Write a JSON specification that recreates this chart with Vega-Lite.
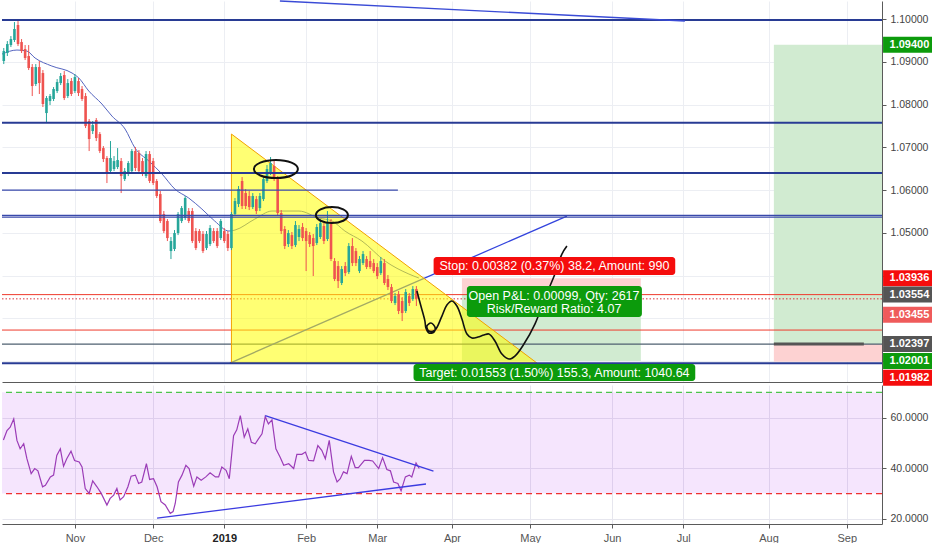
{
  "$schema": "https://vega.github.io/schema/vega-lite/v6.json",
  "padding": 0,
  "background": "#ffffff",
  "spacing": 3,
  "bounds": "flush",
  "datasets": {
    "candles": [
      {"i":-20,"o":1.09018,"h":1.09322,"l":1.08947,"c":1.09251},
      {"i":-19,"o":1.09205,"h":1.09485,"l":1.09135,"c":1.09415},
      {"i":-18,"o":1.09392,"h":1.09602,"l":1.09345,"c":1.09532},
      {"i":-17,"o":1.09509,"h":1.0993,"l":1.09462,"c":1.09766},
      {"i":-16,"o":1.0986,"h":1.09953,"l":1.09368,"c":1.09415},
      {"i":-15,"o":1.09462,"h":1.09532,"l":1.09205,"c":1.09251},
      {"i":-14,"o":1.09298,"h":1.09392,"l":1.09041,"c":1.09088},
      {"i":-13,"o":1.09135,"h":1.09392,"l":1.08807,"c":1.08854},
      {"i":-12,"o":1.08877,"h":1.08947,"l":1.08199,"c":1.08433},
      {"i":-11,"o":1.0848,"h":1.08947,"l":1.08433,"c":1.08877},
      {"i":-10,"o":1.08877,"h":1.09018,"l":1.08246,"c":1.08503},
      {"i":-9,"o":1.08737,"h":1.08807,"l":1.07942,"c":1.08012},
      {"i":-8,"o":1.07801,"h":1.08199,"l":1.07567,"c":1.08152},
      {"i":-7,"o":1.08082,"h":1.08246,"l":1.07988,"c":1.08199},
      {"i":-6,"o":1.08129,"h":1.08409,"l":1.08082,"c":1.08363},
      {"i":-5,"o":1.08316,"h":1.08596,"l":1.08269,"c":1.08526},
      {"i":-4,"o":1.08503,"h":1.08737,"l":1.08456,"c":1.08667},
      {"i":-3,"o":1.0869,"h":1.08784,"l":1.08105,"c":1.08152},
      {"i":-2,"o":1.08199,"h":1.08596,"l":1.08152,"c":1.08503},
      {"i":-1,"o":1.0855,"h":1.0862,"l":1.08199,"c":1.08246},
      {"i":0,"o":1.08316,"h":1.08713,"l":1.08269,"c":1.08643},
      {"i":1,"o":1.0855,"h":1.0862,"l":1.08199,"c":1.08269},
      {"i":2,"o":1.08363,"h":1.08433,"l":1.08082,"c":1.08129},
      {"i":3,"o":1.08199,"h":1.08269,"l":1.0745,"c":1.07497},
      {"i":4,"o":1.07614,"h":1.07661,"l":1.06912,"c":1.07193},
      {"i":5,"o":1.0738,"h":1.07614,"l":1.0731,"c":1.0752},
      {"i":6,"o":1.07637,"h":1.07684,"l":1.07146,"c":1.07216},
      {"i":7,"o":1.0731,"h":1.07357,"l":1.06865,"c":1.06912},
      {"i":8,"o":1.06982,"h":1.07029,"l":1.06655,"c":1.06725},
      {"i":9,"o":1.06749,"h":1.06795,"l":1.06164,"c":1.06398},
      {"i":10,"o":1.06444,"h":1.07146,"l":1.06398,"c":1.06749},
      {"i":11,"o":1.06491,"h":1.06795,"l":1.06444,"c":1.06678},
      {"i":12,"o":1.06538,"h":1.06982,"l":1.06491,"c":1.06702},
      {"i":13,"o":1.06678,"h":1.06749,"l":1.0593,"c":1.06327},
      {"i":14,"o":1.06257,"h":1.06515,"l":1.06211,"c":1.06444},
      {"i":15,"o":1.06374,"h":1.06678,"l":1.06327,"c":1.06632},
      {"i":16,"o":1.06444,"h":1.06959,"l":1.06398,"c":1.06912},
      {"i":17,"o":1.06912,"h":1.07006,"l":1.06444,"c":1.06515},
      {"i":18,"o":1.06865,"h":1.06936,"l":1.06398,"c":1.06444},
      {"i":19,"o":1.06678,"h":1.06749,"l":1.06327,"c":1.06374},
      {"i":20,"o":1.06327,"h":1.06912,"l":1.06281,"c":1.06842},
      {"i":21,"o":1.06842,"h":1.06912,"l":1.06164,"c":1.06211},
      {"i":22,"o":1.06678,"h":1.06749,"l":1.06117,"c":1.06164},
      {"i":23,"o":1.06211,"h":1.06257,"l":1.05813,"c":1.0586},
      {"i":24,"o":1.05906,"h":1.05977,"l":1.05228,"c":1.05275},
      {"i":25,"o":1.05439,"h":1.05509,"l":1.04994,"c":1.05041},
      {"i":26,"o":1.05275,"h":1.05322,"l":1.04807,"c":1.04877},
      {"i":27,"o":1.04573,"h":1.04901,"l":1.04386,"c":1.04807},
      {"i":28,"o":1.0462,"h":1.05064,"l":1.04573,"c":1.04994},
      {"i":29,"o":1.04994,"h":1.05485,"l":1.04947,"c":1.05439},
      {"i":30,"o":1.05275,"h":1.05626,"l":1.05228,"c":1.05579},
      {"i":31,"o":1.05345,"h":1.0586,"l":1.05298,"c":1.05813},
      {"i":32,"o":1.05509,"h":1.05579,"l":1.05228,"c":1.05275},
      {"i":33,"o":1.05509,"h":1.05579,"l":1.0476,"c":1.04807},
      {"i":34,"o":1.05041,"h":1.05111,"l":1.04596,"c":1.04643},
      {"i":35,"o":1.05041,"h":1.05088,"l":1.0476,"c":1.04807},
      {"i":36,"o":1.04971,"h":1.05041,"l":1.04526,"c":1.04573},
      {"i":37,"o":1.04643,"h":1.05041,"l":1.04596,"c":1.04971},
      {"i":38,"o":1.04737,"h":1.05181,"l":1.0469,"c":1.05111},
      {"i":39,"o":1.05041,"h":1.05111,"l":1.0476,"c":1.04807},
      {"i":40,"o":1.05041,"h":1.05111,"l":1.04643,"c":1.0469},
      {"i":41,"o":1.04877,"h":1.05322,"l":1.0483,"c":1.05275},
      {"i":42,"o":1.05041,"h":1.05111,"l":1.0476,"c":1.04807},
      {"i":43,"o":1.04971,"h":1.05041,"l":1.04573,"c":1.04643},
      {"i":44,"o":1.04643,"h":1.05485,"l":1.04596,"c":1.05439},
      {"i":45,"o":1.05439,"h":1.05813,"l":1.05392,"c":1.05743},
      {"i":46,"o":1.05673,"h":1.06094,"l":1.05602,"c":1.06023},
      {"i":47,"o":1.06211,"h":1.06304,"l":1.05556,"c":1.05626},
      {"i":48,"o":1.0593,"h":1.06023,"l":1.05556,"c":1.05626},
      {"i":49,"o":1.0586,"h":1.05977,"l":1.05532,"c":1.05602},
      {"i":50,"o":1.05602,"h":1.0593,"l":1.05556,"c":1.0586},
      {"i":51,"o":1.05789,"h":1.0586,"l":1.05439,"c":1.05509},
      {"i":52,"o":1.05579,"h":1.0593,"l":1.05509,"c":1.0586},
      {"i":53,"o":1.05789,"h":1.06327,"l":1.05743,"c":1.06257},
      {"i":54,"o":1.06211,"h":1.06585,"l":1.06164,"c":1.06491},
      {"i":55,"o":1.06398,"h":1.06772,"l":1.06351,"c":1.06632},
      {"i":56,"o":1.06561,"h":1.06678,"l":1.06211,"c":1.06257},
      {"i":57,"o":1.06257,"h":1.06327,"l":1.05415,"c":1.05462},
      {"i":58,"o":1.05462,"h":1.05532,"l":1.04971,"c":1.05041},
      {"i":59,"o":1.05088,"h":1.05158,"l":1.0462,"c":1.0469},
      {"i":60,"o":1.04737,"h":1.05064,"l":1.04667,"c":1.04994},
      {"i":61,"o":1.04947,"h":1.05018,"l":1.0462,"c":1.0469},
      {"i":62,"o":1.04713,"h":1.05275,"l":1.04667,"c":1.05181},
      {"i":63,"o":1.04901,"h":1.05181,"l":1.04807,"c":1.05088},
      {"i":64,"o":1.05135,"h":1.05228,"l":1.04807,"c":1.04877},
      {"i":65,"o":1.05041,"h":1.05111,"l":1.04105,"c":1.04807},
      {"i":66,"o":1.04947,"h":1.05018,"l":1.04667,"c":1.04737},
      {"i":67,"o":1.04877,"h":1.04971,"l":1.03988,"c":1.0469},
      {"i":68,"o":1.0476,"h":1.05205,"l":1.04713,"c":1.05135},
      {"i":69,"o":1.04901,"h":1.05322,"l":1.04854,"c":1.05228},
      {"i":70,"o":1.05158,"h":1.05228,"l":1.04737,"c":1.04807},
      {"i":71,"o":1.04854,"h":1.05509,"l":1.04807,"c":1.05228},
      {"i":72,"o":1.05228,"h":1.05322,"l":1.04339,"c":1.04386},
      {"i":73,"o":1.04339,"h":1.04409,"l":1.03871,"c":1.03918},
      {"i":74,"o":1.04222,"h":1.04339,"l":1.03708,"c":1.03871},
      {"i":75,"o":1.03825,"h":1.04222,"l":1.03778,"c":1.04152},
      {"i":76,"o":1.04222,"h":1.04316,"l":1.03988,"c":1.04058},
      {"i":77,"o":1.04082,"h":1.0476,"l":1.04035,"c":1.0469},
      {"i":78,"o":1.0469,"h":1.04877,"l":1.04222,"c":1.04292},
      {"i":79,"o":1.04573,"h":1.04643,"l":1.04222,"c":1.04292},
      {"i":80,"o":1.04105,"h":1.04456,"l":1.04058,"c":1.04386},
      {"i":81,"o":1.04292,"h":1.04573,"l":1.04246,"c":1.04503},
      {"i":82,"o":1.04386,"h":1.04456,"l":1.04152,"c":1.04199},
      {"i":83,"o":1.04339,"h":1.04573,"l":1.04152,"c":1.04199},
      {"i":84,"o":1.04292,"h":1.04386,"l":1.04058,"c":1.04105},
      {"i":85,"o":1.04199,"h":1.04292,"l":1.03918,"c":1.03988},
      {"i":86,"o":1.04058,"h":1.04433,"l":1.04012,"c":1.04339},
      {"i":87,"o":1.04292,"h":1.04386,"l":1.03778,"c":1.03825},
      {"i":88,"o":1.03918,"h":1.04012,"l":1.03661,"c":1.03731},
      {"i":89,"o":1.03731,"h":1.03801,"l":1.03357,"c":1.03404},
      {"i":90,"o":1.03357,"h":1.03591,"l":1.0331,"c":1.0352},
      {"i":91,"o":1.03567,"h":1.03637,"l":1.03099,"c":1.0317},
      {"i":92,"o":1.03404,"h":1.03497,"l":1.02936,"c":1.03123},
      {"i":93,"o":1.0317,"h":1.03684,"l":1.03123,"c":1.03614},
      {"i":94,"o":1.0352,"h":1.03591,"l":1.03287,"c":1.03357},
      {"i":95,"o":1.0345,"h":1.03754,"l":1.03404,"c":1.03684},
      {"i":96,"o":1.03684,"h":1.03754,"l":1.03287,"c":1.03455}
    ],
    "ma": [
      {"i":-20.5,"p":1.09181},{"i":-16.3,"p":1.09275},{"i":-13.5,"p":1.09251},{"i":-11.2,"p":1.09088},
      {"i":-6.5,"p":1.08901},{"i":-0.8,"p":1.08737},{"i":1.1,"p":1.0862},{"i":3.9,"p":1.08316},
      {"i":7.6,"p":1.08012},{"i":10.4,"p":1.07731},{"i":14.1,"p":1.07427},{"i":16.9,"p":1.06982},
      {"i":20.8,"p":1.06678},{"i":24.5,"p":1.06374},{"i":28.1,"p":1.06023},{"i":32,"p":1.05813},
      {"i":35.7,"p":1.05556},{"i":39.3,"p":1.05275},{"i":43.3,"p":1.05041},{"i":45,"p":1.05064},
      {"i":50.6,"p":1.05322},{"i":55.4,"p":1.05509},{"i":63,"p":1.05509},{"i":68.6,"p":1.05345},
      {"i":72.3,"p":1.05275},{"i":75.9,"p":1.05041},{"i":80.7,"p":1.04807},{"i":87.2,"p":1.04339},
      {"i":93.9,"p":1.04035},{"i":96.7,"p":1.03942}
    ],
    "path": [
      {"k":1,"i":96.15,"p":1.03637},{"k":2,"i":97.27,"p":1.03287},{"k":3,"i":98.4,"p":1.02936},
      {"k":4,"i":98.68,"p":1.02772},{"k":5,"i":99.52,"p":1.02655},{"k":6,"i":100.93,"p":1.02678},
      {"k":7,"i":101.21,"p":1.02795},{"k":8,"i":100.08,"p":1.02889},{"k":9,"i":98.96,"p":1.02819},
      {"k":10,"i":99.52,"p":1.02702},{"k":11,"i":101.21,"p":1.02725},{"k":12,"i":103.18,"p":1.03053},
      {"k":13,"i":104.58,"p":1.0331},{"k":14,"i":105.99,"p":1.03404},{"k":15,"i":107.39,"p":1.03287},
      {"k":16,"i":108.8,"p":1.02982},{"k":17,"i":110.21,"p":1.02632},{"k":18,"i":111.61,"p":1.02538},
      {"k":19,"i":113.3,"p":1.02561},{"k":20,"i":114.99,"p":1.02608},{"k":21,"i":116.39,"p":1.02632},
      {"k":22,"i":118.08,"p":1.02468},{"k":23,"i":120.04,"p":1.02164},{"k":24,"i":122.01,"p":1.02047},
      {"k":25,"i":123.7,"p":1.02117},{"k":26,"i":126.23,"p":1.02398},{"k":27,"i":129.32,"p":1.02865},
      {"k":28,"i":132.13,"p":1.03474},{"k":29,"i":134.95,"p":1.04035},{"k":30,"i":136.91,"p":1.04503},
      {"k":31,"i":138.32,"p":1.0469}
    ],
    "ellipses": [
      {"e":"a","k":1,"i":62.69,"p":1.06491},{"e":"a","k":2,"i":60.89,"p":1.06341},
      {"e":"a","k":3,"i":56.51,"p":1.06281},{"e":"a","k":4,"i":52.12,"p":1.06341},
      {"e":"a","k":5,"i":50.32,"p":1.06491},{"e":"a","k":6,"i":52.12,"p":1.06641},
      {"e":"a","k":7,"i":56.51,"p":1.06702},{"e":"a","k":8,"i":60.89,"p":1.06641},
      {"e":"b","k":1,"i":76.75,"p":1.05415},{"e":"b","k":2,"i":75.43,"p":1.05282},
      {"e":"b","k":3,"i":72.25,"p":1.05228},{"e":"b","k":4,"i":69.07,"p":1.05282},
      {"e":"b","k":5,"i":67.75,"p":1.05415},{"e":"b","k":6,"i":69.07,"p":1.05549},
      {"e":"b","k":7,"i":72.25,"p":1.05602},{"e":"b","k":8,"i":75.43,"p":1.05549}
    ],
    "rsi": [
      {"i":-20.1,"v":51.2},{"i":-19.1,"v":54.9},{"i":-18.2,"v":56.2},{"i":-17.2,"v":59.5},{"i":-16.3,"v":51.0},
      {"i":-15.4,"v":47.7},{"i":-14.4,"v":49.7},{"i":-13.5,"v":43.8},{"i":-12.3,"v":37.9},{"i":-11.3,"v":39.9},
      {"i":-10.4,"v":39.0},{"i":-9.1,"v":32.7},{"i":-8.3,"v":33.3},{"i":-6.9,"v":36.6},{"i":-6.0,"v":37.3},
      {"i":-5.1,"v":45.1},{"i":-4.1,"v":47.7},{"i":-3.2,"v":40.8},{"i":-2.3,"v":43.8},{"i":-1.1,"v":46.8},
      {"i":-0.1,"v":43.1},{"i":1.2,"v":42.5},{"i":2.0,"v":40.5},{"i":2.9,"v":32.0},{"i":4.0,"v":30.1},
      {"i":5.0,"v":35.0},{"i":6.2,"v":32.7},{"i":7.4,"v":30.1},{"i":9.0,"v":25.5},{"i":9.9,"v":28.1},
      {"i":10.9,"v":29.4},{"i":11.8,"v":32.0},{"i":12.7,"v":27.5},{"i":13.7,"v":28.8},{"i":14.9,"v":32.7},
      {"i":15.8,"v":36.9},{"i":17.0,"v":37.3},{"i":17.9,"v":34.0},{"i":18.8,"v":34.6},{"i":20.1,"v":41.8},
      {"i":21.0,"v":35.6},{"i":22.1,"v":35.9},{"i":23.1,"v":32.7},{"i":24.2,"v":26.8},{"i":25.4,"v":25.5},
      {"i":26.8,"v":22.2},{"i":27.6,"v":22.9},{"i":28.2,"v":26.1},{"i":29.1,"v":34.6},{"i":30.1,"v":37.3},
      {"i":31.2,"v":41.2},{"i":32.1,"v":39.9},{"i":33.4,"v":32.9},{"i":34.3,"v":36.6},{"i":35.5,"v":35.3},
      {"i":36.8,"v":36.6},{"i":38.0,"v":38.2},{"i":39.5,"v":36.6},{"i":40.4,"v":36.6},{"i":41.3,"v":40.5},
      {"i":42.5,"v":39.2},{"i":43.4,"v":35.9},{"i":44.6,"v":52.9},{"i":45.5,"v":55.2},{"i":46.5,"v":60.8},
      {"i":47.6,"v":52.3},{"i":48.6,"v":55.6},{"i":49.6,"v":50.3},{"i":50.7,"v":49.7},{"i":51.6,"v":51.6},
      {"i":52.6,"v":53.6},{"i":53.5,"v":60.4},{"i":54.4,"v":57.5},{"i":55.4,"v":59.1},{"i":56.5,"v":47.7},
      {"i":57.7,"v":44.4},{"i":58.7,"v":41.2},{"i":60.1,"v":41.8},{"i":61.5,"v":39.9},{"i":62.4,"v":45.5},
      {"i":63.8,"v":45.5},{"i":64.8,"v":46.4},{"i":65.7,"v":43.1},{"i":67.1,"v":42.9},{"i":68.3,"v":49.0},
      {"i":69.4,"v":47.1},{"i":70.4,"v":43.8},{"i":71.5,"v":51.0},{"i":72.7,"v":38.6},{"i":73.7,"v":34.6},
      {"i":74.6,"v":35.9},{"i":75.5,"v":38.6},{"i":76.5,"v":37.9},{"i":77.7,"v":44.7},{"i":78.8,"v":40.3},
      {"i":79.7,"v":40.3},{"i":81.4,"v":43.1},{"i":82.7,"v":43.1},{"i":83.7,"v":42.9},{"i":85.4,"v":39.9},
      {"i":86.5,"v":44.2},{"i":87.7,"v":39.5},{"i":88.7,"v":39.0},{"i":89.6,"v":34.6},{"i":90.8,"v":34.0},
      {"i":91.7,"v":31.1},{"i":92.9,"v":36.6},{"i":94.0,"v":37.3},{"i":94.7,"v":36.6},{"i":95.9,"v":42.1},
      {"i":96.8,"v":39.9}
    ]
  },
  "vconcat": [
    {
      "width": 880,
      "height": 381,
      "resolve": {"axis": {"x": "independent", "y": "independent"}},
      "layer": [
        {
          "data": {"values": [
            {"i1":108.8,"i2":159.1,"p1":1.03554,"p2":1.03936},
            {"i1":196.5,"i2":226.9,"p1":1.01982,"p2":1.02397}
          ]},
          "mark": {"type": "rect", "color": "#fdd2d2"},
          "encoding": {
            "x": {"field": "i1", "type": "quantitative", "scale": {"domain": [-20.5, 226.9], "nice": false, "zero": false, "padding": 0},
                  "axis": {"orient": "bottom", "values": [0,22,42,65,85,106,128,151,171,195,217], "labels": false, "ticks": false, "grid": true, "gridColor": "#eceef3", "domain": true, "domainColor": "#5a5a5a", "title": null}},
            "x2": {"field": "i2"},
            "y": {"field": "p1", "type": "quantitative", "scale": {"domain": [1.0151, 1.10422], "nice": false, "zero": false, "padding": 0},
                  "axis": {"orient": "right", "values": [1.02,1.03,1.04,1.05,1.06,1.07,1.08,1.09,1.1], "format": ".5f", "labelExpr": "datum.value > 1.045 ? datum.label : ''", "grid": true, "gridColor": "#eceef3", "tickSize": 4, "tickColor": "#5a5a5a", "domainColor": "#5a5a5a", "labelPadding": 4, "labelFontSize": 10.5, "labelColor": "#444444", "title": null}},
            "y2": {"field": "p2"}
          }
        },
        {
          "data": {"values": [
            {"i1":108.8,"i2":159.1,"p1":1.02001,"p2":1.03554},
            {"i1":196.5,"i2":226.9,"p1":1.02397,"p2":1.094}
          ]},
          "mark": {"type": "rect", "color": "#d1ebd1"},
          "encoding": {
            "x": {"field": "i1", "type": "quantitative", "scale": {"domain": [-20.5, 226.9], "nice": false, "zero": false, "padding": 0}, "axis": null},
            "x2": {"field": "i2"},
            "y": {"field": "p1", "type": "quantitative", "scale": {"domain": [1.0151, 1.10422], "nice": false, "zero": false, "padding": 0}, "axis": null},
            "y2": {"field": "p2"}
          }
        },
        {
          "data": {"values": [{"p":1.03554},{"p":1.02725}]},
          "mark": {"type": "rule", "color": "#ef3b2d", "strokeWidth": 1},
          "encoding": {"y": {"field": "p", "type": "quantitative", "scale": {"domain": [1.0151, 1.10422], "nice": false, "zero": false, "padding": 0}, "axis": null}}
        },
        {
          "data": {"values": [{"p":1.03455}]},
          "mark": {"type": "rule", "color": "#d8303c", "strokeWidth": 1, "strokeDash": [1.5, 2]},
          "encoding": {"y": {"field": "p", "type": "quantitative", "scale": {"domain": [1.0151, 1.10422], "nice": false, "zero": false, "padding": 0}, "axis": null}}
        },
        {
          "data": {"values": [{"p":1.02397}]},
          "mark": {"type": "rule", "color": "#4f6070", "strokeWidth": 1.2},
          "encoding": {"y": {"field": "p", "type": "quantitative", "scale": {"domain": [1.0151, 1.10422], "nice": false, "zero": false, "padding": 0}, "axis": null}}
        },
        {
          "data": {"name": "ma"},
          "mark": {"type": "line", "color": "#5565c0", "strokeWidth": 1, "interpolate": "monotone"},
          "encoding": {
            "x": {"field": "i", "type": "quantitative", "scale": {"domain": [-20.5, 226.9], "nice": false, "zero": false, "padding": 0}, "axis": null},
            "y": {"field": "p", "type": "quantitative", "scale": {"domain": [1.0151, 1.10422], "nice": false, "zero": false, "padding": 0}, "axis": null}
          }
        },
        {
          "data": {"values": [{"i1":43.58,"p1":1.01953,"i2":138.32,"p2":1.05392}]},
          "mark": {"type": "rule", "color": "#3344dd", "strokeWidth": 1.3},
          "encoding": {
            "x": {"field": "i1", "type": "quantitative", "scale": {"domain": [-20.5, 226.9], "nice": false, "zero": false, "padding": 0}, "axis": null},
            "x2": {"field": "i2"},
            "y": {"field": "p1", "type": "quantitative", "scale": {"domain": [1.0151, 1.10422], "nice": false, "zero": false, "padding": 0}, "axis": null},
            "y2": {"field": "p2"}
          }
        },
        {
          "data": {"values": [{"i":44,"p":1.0731},{"i":129.9,"p":1.01953}]},
          "mark": {"type": "area", "color": "#ffff00", "fillOpacity": 0.55, "stroke": "#f2a100", "strokeWidth": 1},
          "encoding": {
            "x": {"field": "i", "type": "quantitative", "scale": {"domain": [-20.5, 226.9], "nice": false, "zero": false, "padding": 0}, "axis": null},
            "y": {"field": "p", "type": "quantitative", "scale": {"domain": [1.0151, 1.10422], "nice": false, "zero": false, "padding": 0}, "axis": null},
            "y2": {"datum": 1.01953}
          }
        },
        {
          "data": {"name": "candles"},
          "mark": {"type": "rule", "strokeWidth": 1},
          "encoding": {
            "x": {"field": "i", "type": "quantitative", "scale": {"domain": [-20.5, 226.9], "nice": false, "zero": false, "padding": 0}, "axis": null},
            "y": {"field": "l", "type": "quantitative", "scale": {"domain": [1.0151, 1.10422], "nice": false, "zero": false, "padding": 0}, "axis": null},
            "y2": {"field": "h"},
            "color": {"condition": {"test": "datum.c >= datum.o", "value": "#26a69a"}, "value": "#ef5350"}
          }
        },
        {
          "data": {"name": "candles"},
          "mark": {"type": "bar", "width": 2.6},
          "encoding": {
            "x": {"field": "i", "type": "quantitative", "scale": {"domain": [-20.5, 226.9], "nice": false, "zero": false, "padding": 0}, "axis": null},
            "y": {"field": "o", "type": "quantitative", "scale": {"domain": [1.0151, 1.10422], "nice": false, "zero": false, "padding": 0}, "axis": null},
            "y2": {"field": "c"},
            "color": {"condition": {"test": "datum.c >= datum.o", "value": "#26a69a"}, "value": "#ef5350"}
          }
        },
        {
          "data": {"values": [{"p":1.09977},{"p":1.07574},{"p":1.06398},{"p":1.01946}]},
          "mark": {"type": "rule", "color": "#283b94", "strokeWidth": 2},
          "encoding": {"y": {"field": "p", "type": "quantitative", "scale": {"domain": [1.0151, 1.10422], "nice": false, "zero": false, "padding": 0}, "axis": null}}
        },
        {
          "data": {"values": [{"p":1.05408},{"p":1.05368}]},
          "mark": {"type": "rule", "color": "#3949ab", "strokeWidth": 1.2},
          "encoding": {"y": {"field": "p", "type": "quantitative", "scale": {"domain": [1.0151, 1.10422], "nice": false, "zero": false, "padding": 0}, "axis": null}}
        },
        {
          "data": {"values": [{"i1":-20.5,"p1":1.06,"i2":90.8,"p2":1.06}]},
          "mark": {"type": "rule", "color": "#3949ab", "strokeWidth": 1.2},
          "encoding": {
            "x": {"field": "i1", "type": "quantitative", "scale": {"domain": [-20.5, 226.9], "nice": false, "zero": false, "padding": 0}, "axis": null},
            "x2": {"field": "i2"},
            "y": {"field": "p1", "type": "quantitative", "scale": {"domain": [1.0151, 1.10422], "nice": false, "zero": false, "padding": 0}, "axis": null},
            "y2": {"field": "p2"}
          }
        },
        {
          "data": {"values": [{"i1":57.63,"p1":1.10421,"i2":171.49,"p2":1.09953}]},
          "mark": {"type": "rule", "color": "#3a4bd6", "strokeWidth": 1.4},
          "encoding": {
            "x": {"field": "i1", "type": "quantitative", "scale": {"domain": [-20.5, 226.9], "nice": false, "zero": false, "padding": 0}, "axis": null},
            "x2": {"field": "i2"},
            "y": {"field": "p1", "type": "quantitative", "scale": {"domain": [1.0151, 1.10422], "nice": false, "zero": false, "padding": 0}, "axis": null},
            "y2": {"field": "p2"}
          }
        },
        {
          "data": {"values": [{"i1":196.5,"i2":221.8,"p":1.02397}]},
          "mark": {"type": "rule", "color": "#555555", "strokeWidth": 3},
          "encoding": {
            "x": {"field": "i1", "type": "quantitative", "scale": {"domain": [-20.5, 226.9], "nice": false, "zero": false, "padding": 0}, "axis": null},
            "x2": {"field": "i2"},
            "y": {"field": "p", "type": "quantitative", "scale": {"domain": [1.0151, 1.10422], "nice": false, "zero": false, "padding": 0}, "axis": null}
          }
        },
        {
          "data": {"name": "ellipses"},
          "mark": {"type": "line", "color": "#111111", "strokeWidth": 2, "interpolate": "cardinal-closed"},
          "encoding": {
            "x": {"field": "i", "type": "quantitative", "scale": {"domain": [-20.5, 226.9], "nice": false, "zero": false, "padding": 0}, "axis": null},
            "y": {"field": "p", "type": "quantitative", "scale": {"domain": [1.0151, 1.10422], "nice": false, "zero": false, "padding": 0}, "axis": null},
            "detail": {"field": "e"},
            "order": {"field": "k", "type": "quantitative"}
          }
        },
        {
          "data": {"name": "path"},
          "mark": {"type": "line", "color": "#111111", "strokeWidth": 1.6, "interpolate": "catmull-rom"},
          "encoding": {
            "x": {"field": "i", "type": "quantitative", "scale": {"domain": [-20.5, 226.9], "nice": false, "zero": false, "padding": 0}, "axis": null},
            "y": {"field": "p", "type": "quantitative", "scale": {"domain": [1.0151, 1.10422], "nice": false, "zero": false, "padding": 0}, "axis": null},
            "order": {"field": "k", "type": "quantitative"}
          }
        },
        {
          "data": {"values": [
            {"i1":100.84,"i2":168.77,"p1":1.04012,"p2":1.04433,"kind":"sl"},
            {"i1":110.2,"i2":159.4,"p1":1.03029,"p2":1.03754,"kind":"tp"},
            {"i1":95.2,"i2":174.4,"p1":1.01532,"p2":1.0193,"kind":"tp"}
          ]},
          "mark": {"type": "rect", "cornerRadius": 3},
          "encoding": {
            "x": {"field": "i1", "type": "quantitative", "scale": {"domain": [-20.5, 226.9], "nice": false, "zero": false, "padding": 0}, "axis": null},
            "x2": {"field": "i2"},
            "y": {"field": "p1", "type": "quantitative", "scale": {"domain": [1.0151, 1.10422], "nice": false, "zero": false, "padding": 0}, "axis": null},
            "y2": {"field": "p2"},
            "color": {"field": "kind", "type": "nominal", "scale": {"domain": ["tp","sl","entry","last"], "range": ["#0c9b0c","#f50d0d","#555555","#ef5b5b"]}, "legend": null}
          }
        },
        {
          "data": {"values": [
            {"i":134.8,"p":1.04222,"t":"Stop: 0.00382 (0.37%) 38.2, Amount: 990"},
            {"i":134.7,"p":1.0352,"t":"Open P&L: 0.00099, Qty: 2617"},
            {"i":134.7,"p":1.03228,"t":"Risk/Reward Ratio: 4.07"},
            {"i":134.8,"p":1.01731,"t":"Target: 0.01553 (1.50%) 155.3, Amount: 1040.64"}
          ]},
          "mark": {"type": "text", "color": "#ffffff", "fontSize": 12.5, "font": "Liberation Sans", "align": "center", "baseline": "middle"},
          "encoding": {
            "x": {"field": "i", "type": "quantitative", "scale": {"domain": [-20.5, 226.9], "nice": false, "zero": false, "padding": 0}, "axis": null},
            "y": {"field": "p", "type": "quantitative", "scale": {"domain": [1.0151, 1.10422], "nice": false, "zero": false, "padding": 0}, "axis": null},
            "text": {"field": "t"}
          }
        },
        {
          "data": {"values": [
            {"p":1.094,"kind":"tp"},{"p":1.03936,"kind":"sl"},{"p":1.03554,"kind":"entry"},
            {"p":1.02397,"kind":"entry"},{"p":1.02001,"kind":"tp"}
          ]},
          "layer": [
            {
              "mark": {"type": "bar", "size": 16},
              "encoding": {
                "x": {"datum": 227.2, "type": "quantitative", "scale": {"domain": [-20.5, 226.9], "nice": false, "zero": false, "padding": 0}, "axis": null},
                "x2": {"datum": 241.5},
                "y": {"field": "p", "type": "quantitative", "scale": {"domain": [1.0151, 1.10422], "nice": false, "zero": false, "padding": 0}, "axis": null},
                "color": {"field": "kind", "type": "nominal", "legend": null}
              }
            },
            {
              "mark": {"type": "text", "color": "#ffffff", "fontSize": 11, "fontWeight": 600, "font": "Liberation Sans", "align": "center", "baseline": "middle"},
              "encoding": {
                "x": {"datum": 234.6, "type": "quantitative", "scale": {"domain": [-20.5, 226.9], "nice": false, "zero": false, "padding": 0}, "axis": null},
                "y": {"field": "p", "type": "quantitative", "scale": {"domain": [1.0151, 1.10422], "nice": false, "zero": false, "padding": 0}, "axis": null},
                "text": {"field": "p", "type": "quantitative", "format": ".5f"}
              }
            }
          ]
        },
        {
          "data": {"values": [{"p":1.03455,"kind":"last"},{"p":1.01982,"kind":"sl"}]},
          "layer": [
            {
              "mark": {"type": "bar", "size": 16, "yOffset": 16},
              "encoding": {
                "x": {"datum": 227.2, "type": "quantitative", "scale": {"domain": [-20.5, 226.9], "nice": false, "zero": false, "padding": 0}, "axis": null},
                "x2": {"datum": 241.5},
                "y": {"field": "p", "type": "quantitative", "scale": {"domain": [1.0151, 1.10422], "nice": false, "zero": false, "padding": 0}, "axis": null},
                "color": {"field": "kind", "type": "nominal", "legend": null}
              }
            },
            {
              "mark": {"type": "text", "color": "#ffffff", "fontSize": 11, "fontWeight": 600, "font": "Liberation Sans", "align": "center", "baseline": "middle", "yOffset": 16},
              "encoding": {
                "x": {"datum": 234.6, "type": "quantitative", "scale": {"domain": [-20.5, 226.9], "nice": false, "zero": false, "padding": 0}, "axis": null},
                "y": {"field": "p", "type": "quantitative", "scale": {"domain": [1.0151, 1.10422], "nice": false, "zero": false, "padding": 0}, "axis": null},
                "text": {"field": "p", "type": "quantitative", "format": ".5f"}
              }
            }
          ]
        }
      ]
    },
    {
      "width": 880,
      "height": 139,
      "resolve": {"axis": {"x": "independent", "y": "independent"}},
      "layer": [
        {
          "data": {"values": [{}]},
          "mark": {"type": "rect", "color": "#9900ee", "opacity": 0.1},
          "encoding": {
            "x": {"datum": -20.5, "type": "quantitative", "scale": {"domain": [-20.5, 226.9], "nice": false, "zero": false, "padding": 0},
                  "axis": {"orient": "bottom", "values": [0,22,42,65,85,106,128,151,171,195,217],
                           "labelExpr": "datum.value === 0 ? 'Nov' : datum.value === 22 ? 'Dec' : datum.value === 42 ? '2019' : datum.value === 65 ? 'Feb' : datum.value === 85 ? 'Mar' : datum.value === 106 ? 'Apr' : datum.value === 128 ? 'May' : datum.value === 151 ? 'Jun' : datum.value === 171 ? 'Jul' : datum.value === 195 ? 'Aug' : 'Sep'",
                           "labelFontWeight": {"condition": {"test": "datum.value === 42", "value": "bold"}, "value": "normal"},
                           "labelColor": {"condition": {"test": "datum.value === 42", "value": "#222222"}, "value": "#555555"},
                           "labelFontSize": 11, "labelPadding": 4, "tickSize": 4, "tickColor": "#5a5a5a", "domainColor": "#5a5a5a",
                           "grid": true, "gridColor": "#e6e6ee", "labelFlush": false, "title": null}},
            "x2": {"datum": 226.9},
            "y": {"datum": 30, "type": "quantitative", "scale": {"domain": [18, 72.9], "nice": false, "zero": false, "padding": 0},
                  "axis": {"orient": "right", "values": [20, 40, 60], "format": ".4f", "grid": true, "gridColor": "#e6e6ee", "tickSize": 4, "tickColor": "#5a5a5a", "domainColor": "#5a5a5a", "labelPadding": 4, "labelFontSize": 10.5, "labelColor": "#444444", "title": null}},
            "y2": {"datum": 70}
          }
        },
        {
          "data": {"values": [{}]},
          "mark": {"type": "rule", "color": "#4cc44c", "strokeWidth": 1.3, "strokeDash": [6, 4]},
          "encoding": {"y": {"datum": 70, "type": "quantitative", "scale": {"domain": [18, 72.9], "nice": false, "zero": false, "padding": 0}, "axis": null}}
        },
        {
          "data": {"values": [{}]},
          "mark": {"type": "rule", "color": "#ef2f2f", "strokeWidth": 1.3, "strokeDash": [6, 4]},
          "encoding": {"y": {"datum": 30, "type": "quantitative", "scale": {"domain": [18, 72.9], "nice": false, "zero": false, "padding": 0}, "axis": null}}
        },
        {
          "data": {"name": "rsi"},
          "mark": {"type": "line", "color": "#9b3cb7", "strokeWidth": 1.2},
          "encoding": {
            "x": {"field": "i", "type": "quantitative", "scale": {"domain": [-20.5, 226.9], "nice": false, "zero": false, "padding": 0}, "axis": null},
            "y": {"field": "v", "type": "quantitative", "scale": {"domain": [18, 72.9], "nice": false, "zero": false, "padding": 0}, "axis": null}
          }
        },
        {
          "data": {"values": [
            {"i1":53.5,"v1":60.8,"i2":100.8,"v2":38.9},
            {"i1":23.1,"v1":20.3,"i2":98.7,"v2":33.8}
          ]},
          "mark": {"type": "rule", "color": "#3b3be0", "strokeWidth": 1.3},
          "encoding": {
            "x": {"field": "i1", "type": "quantitative", "scale": {"domain": [-20.5, 226.9], "nice": false, "zero": false, "padding": 0}, "axis": null},
            "x2": {"field": "i2"},
            "y": {"field": "v1", "type": "quantitative", "scale": {"domain": [18, 72.9], "nice": false, "zero": false, "padding": 0}, "axis": null},
            "y2": {"field": "v2"}
          }
        }
      ]
    }
  ],
  "config": {
    "view": {"stroke": null},
    "font": "Liberation Sans",
    "scale": {"continuousPadding": 0},
    "axis": {"labelFont": "Liberation Sans"}
  }
}
